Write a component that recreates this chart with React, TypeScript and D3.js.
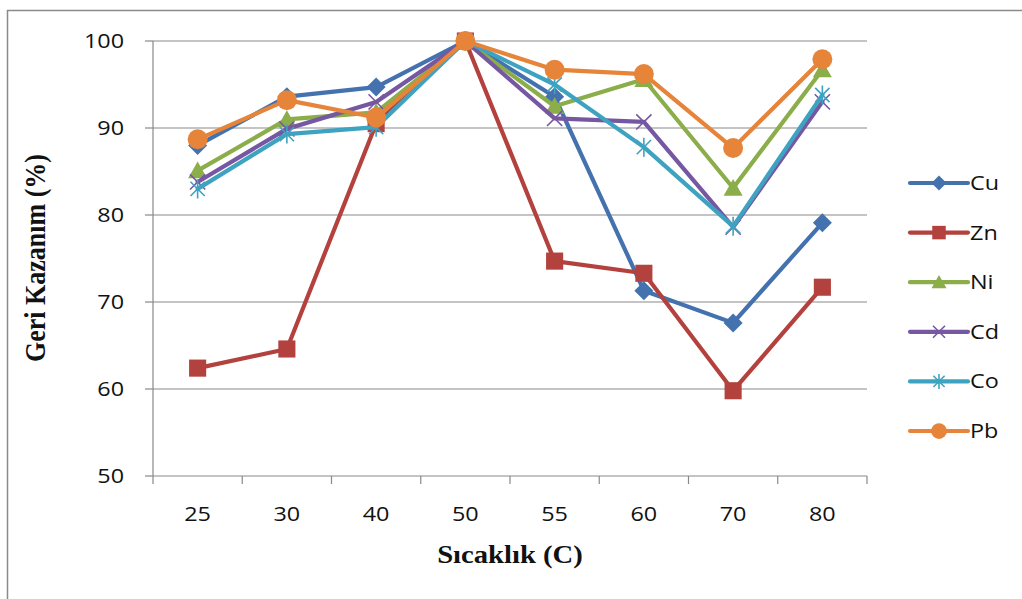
import React from "react";
import * as d3 from "d3";

// Temperature categories (°C) and recovery values (%) per metal
const categories = ["25", "30", "40", "50", "55", "60", "70", "80"];
const cuValues = [88.0, 93.6, 94.7, 100, 93.6, 71.3, 67.6, 79.1];
const znValues = [62.4, 64.6, 90.5, 100, 74.7, 73.3, 59.8, 71.7];
const niValues = [85.1, 91.0, 91.8, 100, 92.5, 95.6, 83.1, 96.7];
const cdValues = [83.8, 89.9, 93.0, 100, 91.1, 90.7, 78.6, 93.0];
const coValues = [83.0, 89.3, 90.1, 100, 95.0, 87.8, 78.7, 93.8];
const pbValues = [88.7, 93.2, 91.2, 100, 96.7, 96.2, 87.7, 97.9];
const yTicks = [50, 60, 70, 80, 90, 100];

type MarkerKind = "diamond" | "square" | "triangle" | "x" | "star" | "circle";

const series: { name: string; values: number[]; color: string; marker: MarkerKind }[] = [
  { name: "Cu", values: cuValues, color: "#4472AE", marker: "diamond" },
  { name: "Zn", values: znValues, color: "#B3423E", marker: "square" },
  { name: "Ni", values: niValues, color: "#8BAD4A", marker: "triangle" },
  { name: "Cd", values: cdValues, color: "#7657A2", marker: "x" },
  { name: "Co", values: coValues, color: "#3EA3C1", marker: "star" },
  { name: "Pb", values: pbValues, color: "#E6843A", marker: "circle" },
];

const W = 1022;
const H = 599;
const plot = { left: 153, right: 867, top: 41, bottom: 476 };
const STRETCH = 1.17;

const x = d3.scaleBand<string>().domain(categories).range([plot.left, plot.right]).padding(0);
const y = d3.scaleLinear().domain([50, 100]).range([plot.bottom, plot.top]);
const cx = (c: string) => (x(c) as number) + x.bandwidth() / 2;

function Marker({ kind, color, s }: { kind: MarkerKind; color: string; s: number }) {
  switch (kind) {
    case "diamond":
      return <path d={`M0,${-s}L${s},0L0,${s}L${-s},0Z`} fill={color} />;
    case "square":
      return <rect x={-s * 0.9} y={-s * 0.9} width={s * 1.8} height={s * 1.8} fill={color} />;
    case "triangle":
      return <path d={`M0,${-s * 0.95}L${s},${s * 0.8}L${-s},${s * 0.8}Z`} fill={color} />;
    case "x": {
      const a = s * 0.8;
      return (
        <path d={`M${-a},${-a}L${a},${a}M${-a},${a}L${a},${-a}`} stroke={color} strokeWidth={1.6} fill="none" />
      );
    }
    case "star": {
      const a = s * 0.75;
      return (
        <path
          d={`M${-a},${-a}L${a},${a}M${-a},${a}L${a},${-a}M0,${-s}L0,${s}`}
          stroke={color}
          strokeWidth={1.6}
          fill="none"
        />
      );
    }
    case "circle":
      return <circle r={s * 1.05} fill={color} />;
  }
}

function StretchText({
  x0,
  y0,
  anchor,
  size,
  family,
  weight,
  children,
}: {
  x0: number;
  y0: number;
  anchor: "start" | "middle" | "end";
  size: number;
  family: string;
  weight?: string | number;
  children: React.ReactNode;
}) {
  return (
    <text
      transform={`translate(${x0},${y0}) scale(${STRETCH},1)`}
      textAnchor={anchor}
      fontSize={size}
      fontFamily={family}
      fontWeight={weight}
      fill="#111"
    >
      {children}
    </text>
  );
}

export default function App() {
  const line = d3
    .line<number>()
    .x((_, i) => cx(categories[i]))
    .y((v) => y(v));

  const tickFont = "'Open Sans', sans-serif";
  const titleFont = "'Liberation Serif', 'Times New Roman', serif";
  const legendX = 910;
  const legendY0 = 183;
  const legendStep = 49.6;

  return (
    <svg
      width={W}
      height={H}
      style={{ position: "absolute", left: 0, top: 0, background: "#fff" }}
    >
      <rect x={7.5} y={10.5} width={W + 20} height={H + 20} fill="#fff" stroke="#8a8a8a" strokeWidth={1.5} />

      {/* horizontal gridlines */}
      {yTicks.slice(1).map((t) => (
        <line key={t} x1={plot.left} x2={plot.right} y1={y(t)} y2={y(t)} stroke="#898989" strokeWidth={1.2} />
      ))}

      {/* axes */}
      <line x1={plot.left} x2={plot.left} y1={plot.top} y2={plot.bottom} stroke="#898989" strokeWidth={1.2} />
      <line x1={plot.left} x2={plot.right} y1={plot.bottom} y2={plot.bottom} stroke="#898989" strokeWidth={1.2} />
      {yTicks.map((t) => (
        <line key={t} x1={plot.left - 8} x2={plot.left} y1={y(t)} y2={y(t)} stroke="#898989" strokeWidth={1.2} />
      ))}
      {categories.map((c) => (
        <line
          key={c}
          x1={x(c) as number}
          x2={x(c) as number}
          y1={plot.bottom}
          y2={plot.bottom + 8}
          stroke="#898989"
          strokeWidth={1.2}
        />
      ))}
      <line x1={plot.right} x2={plot.right} y1={plot.bottom} y2={plot.bottom + 8} stroke="#898989" strokeWidth={1.2} />

      {/* tick labels */}
      {yTicks.map((t) => (
        <StretchText key={t} x0={124} y0={y(t) + 7} anchor="end" size={20} family={tickFont}>
          {t}
        </StretchText>
      ))}
      {categories.map((c) => (
        <StretchText key={c} x0={cx(c)} y0={521} anchor="middle" size={20} family={tickFont}>
          {c}
        </StretchText>
      ))}

      {/* axis titles */}
      <StretchText x0={510} y0={563} anchor="middle" size={24.5} family={titleFont} weight="bold">
        Sıcaklık (C)
      </StretchText>
      <text
        transform={`translate(45,258) scale(${STRETCH},1) rotate(-90)`}
        textAnchor="middle"
        fontSize={26}
        fontFamily={titleFont}
        fontWeight="bold"
        fill="#111"
      >
        Geri Kazanım (%)
      </text>

      {/* series */}
      {series.map((s) => (
        <g key={s.name}>
          <path
            d={line(s.values) ?? ""}
            fill="none"
            stroke={s.color}
            strokeWidth={4.2}
            strokeLinejoin="round"
            strokeLinecap="round"
          />
          {s.values.map((v, i) => (
            <g key={i} transform={`translate(${cx(categories[i])},${y(v)})`}>
              <Marker kind={s.marker} color={s.color} s={9.5} />
            </g>
          ))}
        </g>
      ))}

      {/* legend */}
      {series.map((s, i) => {
        const ly = legendY0 + i * legendStep;
        return (
          <g key={s.name}>
            <line
              x1={legendX}
              x2={legendX + 58}
              y1={ly}
              y2={ly}
              stroke={s.color}
              strokeWidth={4.2}
              strokeLinecap="round"
            />
            <g transform={`translate(${legendX + 29},${ly})`}>
              <Marker kind={s.marker} color={s.color} s={7.5} />
            </g>
            <StretchText x0={970} y0={ly + 7} anchor="start" size={20} family={tickFont}>
              {s.name}
            </StretchText>
          </g>
        );
      })}
    </svg>
  );
}
